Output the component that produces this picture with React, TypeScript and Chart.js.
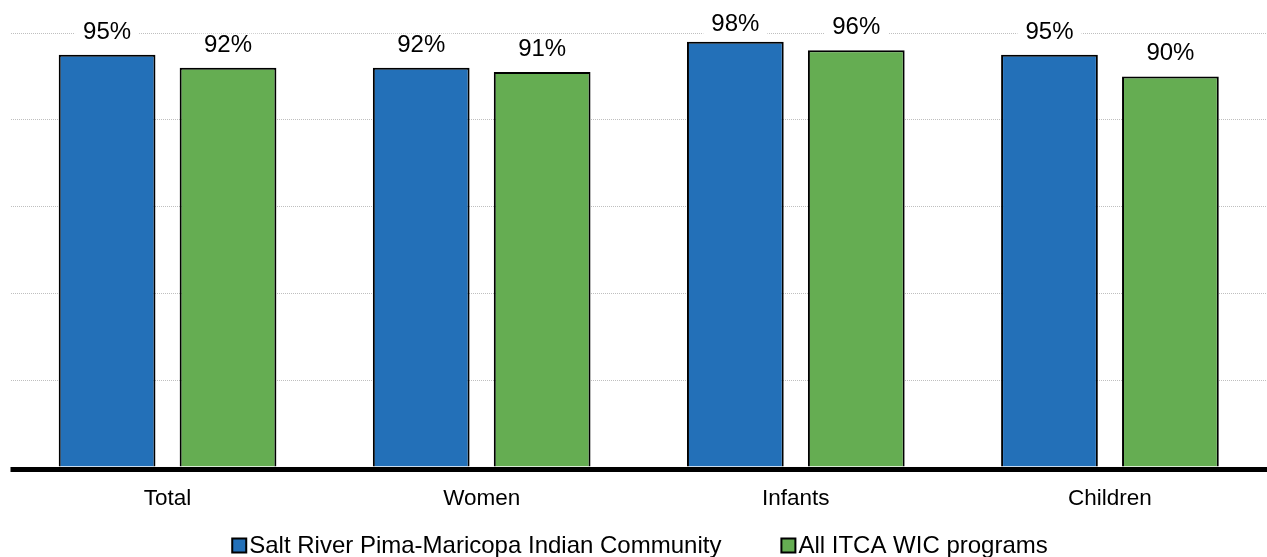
import React, { useEffect, useRef } from 'react';
import { Chart, registerables } from 'chart.js';

Chart.register(...registerables);

const categories = ['Total', 'Women', 'Infants', 'Children'];
const saltRiverValues = [95, 92, 98, 95];
const itcaValues = [92, 91, 96, 90];
const seriesNames = ['Salt River Pima-Maricopa Indian Community', 'All ITCA WIC programs'];
const seriesColors = ['#2370B8', '#65AD52'];
const yTickMin = 0;
const yTickMax = 100;
const yTickStep = 20;

const FONT = '"Liberation Sans", Arial, Helvetica, sans-serif';

const valueLabels = {
  id: 'valueLabels',
  afterDatasetsDraw(chart: any) {
    const ctx = chart.ctx;
    ctx.save();
    ctx.font = `24px ${FONT}`;
    ctx.textAlign = 'center';
    ctx.textBaseline = 'alphabetic';
    chart.data.datasets.forEach((ds: any, di: number) => {
      const meta = chart.getDatasetMeta(di);
      meta.data.forEach((bar: any, i: number) => {
        const text = `${ds.data[i]}%`;
        const y = Math.max(bar.y - 16, 31);
        const w = ctx.measureText(text).width;
        ctx.fillStyle = '#ffffff';
        ctx.fillRect(bar.x - w / 2 - 8, y - 18, w + 16, 21);
        ctx.fillStyle = '#000000';
        ctx.fillText(text, bar.x, y);
      });
    });
    ctx.restore();
  },
};

const baseline = {
  id: 'baseline',
  afterDatasetsDraw(chart: any) {
    const { ctx, chartArea } = chart;
    ctx.save();
    ctx.fillStyle = '#000000';
    ctx.fillRect(chartArea.left, chartArea.bottom, chartArea.right - chartArea.left, 5);
    ctx.restore();
  },
};

const customLegend = {
  id: 'customLegend',
  afterDraw(chart: any) {
    const ctx = chart.ctx;
    ctx.save();
    ctx.font = `24px ${FONT}`;
    ctx.textBaseline = 'alphabetic';
    ctx.textAlign = 'left';
    const box = 14;
    const gap = 3;
    const spacing = 60;
    const widths = seriesNames.map((n) => ctx.measureText(n).width);
    const total =
      widths.reduce((a, w) => a + box + gap + w, 0) + spacing * (seriesNames.length - 1);
    let x = chart.width / 2 + 6.5 - total / 2;
    const yBox = 538.5;
    const yText = 552.5;
    seriesNames.forEach((name, i) => {
      ctx.fillStyle = seriesColors[i];
      ctx.fillRect(x, yBox, box, box);
      ctx.strokeStyle = '#000000';
      ctx.lineWidth = 2;
      ctx.strokeRect(x, yBox, box, box);
      ctx.fillStyle = '#000000';
      ctx.fillText(name, x + box + gap, yText);
      x += box + gap + widths[i] + spacing;
    });
    ctx.restore();
  },
};

export default function App() {
  const canvasRef = useRef<HTMLCanvasElement | null>(null);

  useEffect(() => {
    if (!canvasRef.current) return;
    const chart = new Chart(canvasRef.current, {
      type: 'bar',
      data: {
        labels: categories,
        datasets: [
          {
            label: seriesNames[0],
            data: saltRiverValues,
            backgroundColor: seriesColors[0],
            borderColor: '#000000',
            borderWidth: 2,
            barPercentage: 0.8,
            categoryPercentage: 0.77,
          },
          {
            label: seriesNames[1],
            data: itcaValues,
            backgroundColor: seriesColors[1],
            borderColor: '#000000',
            borderWidth: 2,
            barPercentage: 0.8,
            categoryPercentage: 0.77,
          },
        ],
      },
      options: {
        animation: false,
        responsive: false,
        devicePixelRatio: 1,
        layout: { padding: { top: 33, left: 10.5, right: 0, bottom: 0 } },
        plugins: {
          legend: { display: false },
          tooltip: { enabled: false },
          title: { display: false },
        },
        scales: {
          x: {
            grid: { display: false, drawTicks: false },
            border: { display: false },
            ticks: {
              color: '#000000',
              font: { family: FONT, size: 22.5 },
              padding: 18,
            },
            afterFit: (scale: any) => {
              scale.height = 90;
            },
          },
          y: {
            min: yTickMin,
            max: yTickMax,
            ticks: { display: false, stepSize: yTickStep },
            grid: { color: '#bfbfbf', lineWidth: 1, drawTicks: false },
            border: { display: false, dash: [1, 1] },
          },
        },
      },
      plugins: [valueLabels, baseline, customLegend],
    });
    return () => chart.destroy();
  }, []);

  return (
    <div style={{ position: 'fixed', left: 0, top: 0, width: 1267, height: 557, background: '#ffffff' }}>
      <canvas ref={canvasRef} width={1267} height={557} style={{ display: 'block' }} />
    </div>
  );
}
